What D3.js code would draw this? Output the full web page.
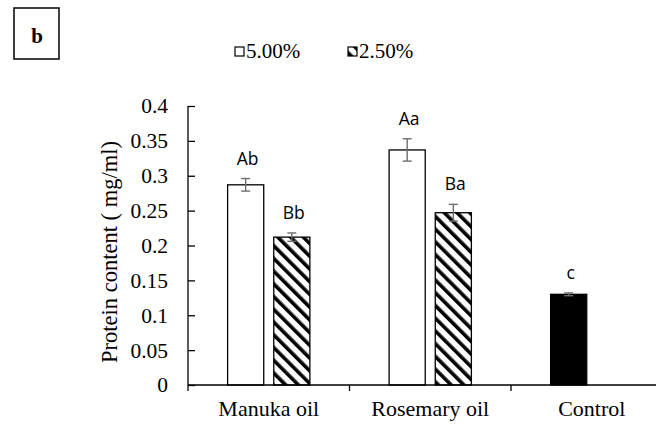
<!DOCTYPE html>
<html>
<head>
<meta charset="utf-8">
<script src="https://cdn.jsdelivr.net/npm/d3@7"></script>
<style>
  html, body { margin: 0; padding: 0; background: #fff; }
  svg { display: block; }
</style>
</head>
<body>
<svg id="chart" width="656" height="426"></svg>
<script>
// Protein content by treatment and concentration
const categories = ["Manuka oil", "Rosemary oil", "Control"];
const seriesNames = ["5.00%", "2.50%"];
const values5 = [0.287, 0.337, 0.130];
const values25 = [0.212, 0.247, null];
const errors5 = [0.009, 0.016, 0.002];
const errors25 = [0.006, 0.012, null];
const letters5 = ["Ab", "Aa", "c"];
const letters25 = ["Bb", "Ba", null];
const yTicks = [0, 0.05, 0.1, 0.15, 0.2, 0.25, 0.3, 0.35, 0.4];

const serif = "'Liberation Serif', 'Times New Roman', serif";
const sans = "'Open Sans', 'Noto Sans', sans-serif";

const svg = d3.select("#chart");

const rows = [];
categories.forEach((c, i) => {
  [[values5, errors5, letters5], [values25, errors25, letters25]].forEach((s, j) => {
    if (s[0][i] == null) return;
    rows.push({ cat: c, series: seriesNames[j], value: s[0][i], err: s[1][i], letter: s[2][i],
                control: c === "Control" });
  });
});

const plotLeft = 188, plotTop = 106, plotBottom = 385;
const step = 161.5;

const x0 = d3.scaleBand().domain(categories)
  .range([plotLeft, plotLeft + step * categories.length]);
const x1 = d3.scaleBand().domain(seriesNames)
  .range([0, x0.bandwidth()])
  .paddingInner(10 / 46)
  .paddingOuter(39.5 / 46);
const y = d3.scaleLinear().domain([0, 0.4]).range([plotBottom, plotTop]);

// Diagonal hatch
const defs = svg.append("defs");
const pat = defs.append("pattern")
  .attr("id", "hatch")
  .attr("patternUnits", "userSpaceOnUse")
  .attr("width", 9).attr("height", 9)
  .attr("patternTransform", "rotate(-45)");
pat.append("rect").attr("width", 9).attr("height", 9).attr("fill", "#fff");
pat.append("rect").attr("x", 0).attr("y", 0).attr("width", 3.6).attr("height", 9).attr("fill", "#000");

// Bars
svg.append("g").selectAll("rect")
  .data(rows)
  .join("rect")
  .attr("x", d => x0(d.cat) + x1(d.series))
  .attr("y", d => y(d.value))
  .attr("width", x1.bandwidth())
  .attr("height", d => y(0) - y(d.value))
  .attr("fill", d => d.control ? "#000" : (d.series === "5.00%" ? "#fff" : "url(#hatch)"))
  .attr("stroke", "#000")
  .attr("stroke-width", 1.3);

// Error bars
const eb = svg.append("g").attr("stroke", "#6e6e6e").attr("stroke-width", 1.4).attr("fill", "none");
rows.forEach(d => {
  const cx = x0(d.cat) + x1(d.series) + x1.bandwidth() / 2;
  const y1 = y(d.value + d.err), y2 = y(d.value - d.err);
  eb.append("line").attr("x1", cx).attr("x2", cx).attr("y1", y1).attr("y2", y2);
  eb.append("line").attr("x1", cx - 4.5).attr("x2", cx + 4.5).attr("y1", y1).attr("y2", y1);
  eb.append("line").attr("x1", cx - 4.5).attr("x2", cx + 4.5).attr("y1", y2).attr("y2", y2);
});

// Significance letters
svg.append("g").selectAll("text")
  .data(rows)
  .join("text")
  .attr("x", d => x0(d.cat) + x1(d.series) + x1.bandwidth() / 2 + 2)
  .attr("y", d => y(d.value + d.err) - 14)
  .attr("text-anchor", "middle")
  .attr("font-family", sans)
  .attr("font-size", 17.5)
  .attr("fill", "#000")
  .text(d => d.letter);

// Y axis
const yAxis = svg.append("g")
  .attr("transform", `translate(${plotLeft},0)`)
  .call(d3.axisLeft(y).tickValues(yTicks).tickSize(-7).tickPadding(20)
    .tickFormat(d => d3.format("")(+d.toFixed(2))));
yAxis.select(".domain").attr("d", `M0,${plotBottom}V${plotTop}`);
yAxis.selectAll("line, path").attr("stroke", "#000").attr("stroke-width", 1.3);
yAxis.selectAll("text")
  .attr("font-family", serif).attr("font-size", 21.5).attr("fill", "#000");

// X axis with ticks at category boundaries
const xAxis = svg.append("g").attr("transform", `translate(0,${plotBottom})`);
xAxis.append("line")
  .attr("x1", plotLeft).attr("x2", 656)
  .attr("stroke", "#000").attr("stroke-width", 1.3);
xAxis.selectAll("line.tick")
  .data(categories.concat(["end"]))
  .join("line")
  .attr("class", "tick")
  .attr("x1", (d, i) => plotLeft + i * x0.step())
  .attr("x2", (d, i) => plotLeft + i * x0.step())
  .attr("y1", 0).attr("y2", 6)
  .attr("stroke", "#000").attr("stroke-width", 1.3);
xAxis.selectAll("text")
  .data(categories)
  .join("text")
  .attr("x", d => x0(d) + x0.bandwidth() / 2)
  .attr("y", 31)
  .attr("text-anchor", "middle")
  .attr("font-family", serif)
  .attr("font-size", 22)
  .attr("fill", "#000")
  .text(d => d);

// Y axis title
svg.append("text")
  .attr("transform", "translate(117,252) rotate(-90)")
  .attr("text-anchor", "middle")
  .attr("font-family", serif)
  .attr("font-size", 22.5)
  .attr("fill", "#000")
  .text("Protein content ( mg/ml)");

// Panel label
svg.append("rect")
  .attr("x", 14).attr("y", 8).attr("width", 45).attr("height", 51)
  .attr("fill", "none").attr("stroke", "#000").attr("stroke-width", 1.5);
svg.append("text")
  .attr("x", 37).attr("y", 43)
  .attr("text-anchor", "middle")
  .attr("font-family", serif)
  .attr("font-weight", "bold")
  .attr("font-size", 21)
  .text("b");

// Legend
const legendX = [235, 348];
const legend = svg.append("g");
seriesNames.forEach((s, i) => {
  legend.append("rect")
    .attr("x", legendX[i]).attr("y", 47).attr("width", 9).attr("height", 9)
    .attr("fill", i === 0 ? "#fff" : "url(#hatch)")
    .attr("stroke", "#000").attr("stroke-width", 1.2);
  legend.append("text")
    .attr("x", legendX[i] + 11).attr("y", 58)
    .attr("font-family", serif).attr("font-size", 21).attr("fill", "#000")
    .text(s);
});
</script>
</body>
</html>
